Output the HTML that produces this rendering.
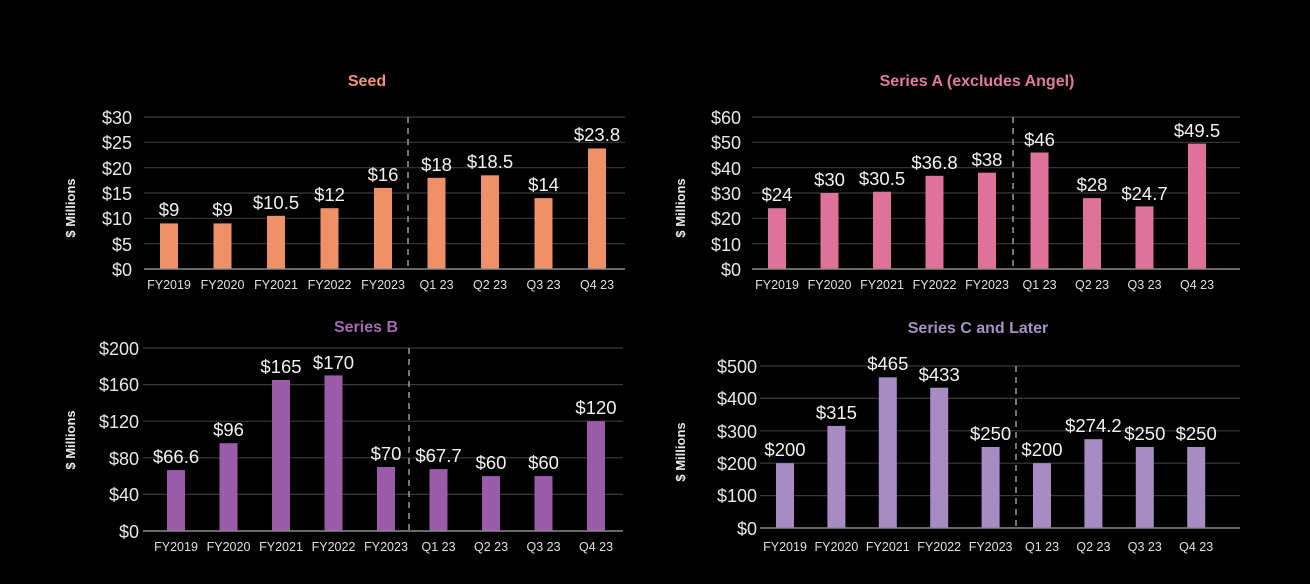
<!DOCTYPE html>
<html><head><meta charset="utf-8"><style>
html,body{margin:0;padding:0;background:#000;}
svg{display:block;font-family:"Liberation Sans",Arial,sans-serif;}
.g{stroke:#3a3a3a;stroke-width:1.2}
.b{stroke:#8a8a8a;stroke-width:1.5}
.d{stroke:#9a9a9a;stroke-width:1.5;stroke-dasharray:6,5}
.t{fill:#e8e8e8;font-size:18px;text-anchor:end}
.c{fill:#e0e0e0;font-size:12.5px;text-anchor:middle}
.v{fill:#f2f2f2;font-size:18.5px;text-anchor:middle}
.y{fill:#e8e8e8;font-size:13px;font-weight:bold;text-anchor:middle}
.h{font-size:16px;font-weight:bold;text-anchor:middle}
</style></head><body>
<svg width="1310" height="584" viewBox="0 0 1310 584">
<rect width="1310" height="584" fill="#000"/>

<!-- SEED -->
<text class="h" x="367" y="86" fill="#ef9470">Seed</text>
<text class="y" transform="translate(75,208) rotate(-90)">$ Millions</text>
<g>
<line class="g" x1="144" y1="117" x2="625" y2="117"/><line class="g" x1="144" y1="142.3" x2="625" y2="142.3"/>
<line class="g" x1="144" y1="167.7" x2="625" y2="167.7"/><line class="g" x1="144" y1="193" x2="625" y2="193"/>
<line class="g" x1="144" y1="218.3" x2="625" y2="218.3"/><line class="g" x1="144" y1="243.7" x2="625" y2="243.7"/>
<text class="t" x="132" y="124">$30</text><text class="t" x="132" y="149">$25</text><text class="t" x="132" y="175">$20</text>
<text class="t" x="132" y="200">$15</text><text class="t" x="132" y="225">$10</text><text class="t" x="132" y="251">$5</text><text class="t" x="132" y="276">$0</text>
<g fill="#ee9068">
<rect x="160" y="223.4" width="18" height="45.6"/><rect x="213.5" y="223.4" width="18" height="45.6"/>
<rect x="267" y="215.8" width="18" height="53.2"/><rect x="320.5" y="208.2" width="18" height="60.8"/>
<rect x="374" y="187.9" width="18" height="81.1"/><rect x="427.5" y="177.8" width="18" height="91.2"/>
<rect x="481" y="175.3" width="18" height="93.7"/><rect x="534.5" y="198.1" width="18" height="70.9"/>
<rect x="588" y="148.4" width="18" height="120.6"/>
</g>
<line class="b" x1="144" y1="269" x2="625" y2="269"/>
<line class="d" x1="408" y1="117" x2="408" y2="269"/>
<text class="v" x="169" y="216">$9</text><text class="v" x="222.5" y="216">$9</text><text class="v" x="276" y="209">$10.5</text>
<text class="v" x="329.5" y="201">$12</text><text class="v" x="383" y="181">$16</text><text class="v" x="436.5" y="171">$18</text>
<text class="v" x="490" y="168">$18.5</text><text class="v" x="543.5" y="191">$14</text><text class="v" x="597" y="141">$23.8</text>
<text class="c" x="169" y="289">FY2019</text><text class="c" x="222.5" y="289">FY2020</text><text class="c" x="276" y="289">FY2021</text>
<text class="c" x="329.5" y="289">FY2022</text><text class="c" x="383" y="289">FY2023</text><text class="c" x="436.5" y="289">Q1 23</text>
<text class="c" x="490" y="289">Q2 23</text><text class="c" x="543.5" y="289">Q3 23</text><text class="c" x="597" y="289">Q4 23</text>
</g>

<!-- SERIES A -->
<text class="h" x="977" y="86" fill="#e27aa0">Series A (excludes Angel)</text>
<text class="y" transform="translate(685,208) rotate(-90)">$ Millions</text>
<g>
<line class="g" x1="752" y1="117" x2="1240" y2="117"/><line class="g" x1="752" y1="142.3" x2="1240" y2="142.3"/>
<line class="g" x1="752" y1="167.7" x2="1240" y2="167.7"/><line class="g" x1="752" y1="193" x2="1240" y2="193"/>
<line class="g" x1="752" y1="218.3" x2="1240" y2="218.3"/><line class="g" x1="752" y1="243.7" x2="1240" y2="243.7"/>
<text class="t" x="741" y="124">$60</text><text class="t" x="741" y="149">$50</text><text class="t" x="741" y="175">$40</text>
<text class="t" x="741" y="200">$30</text><text class="t" x="741" y="225">$20</text><text class="t" x="741" y="251">$10</text><text class="t" x="741" y="276">$0</text>
<g fill="#df7299">
<rect x="768" y="208.2" width="18" height="60.8"/><rect x="820.5" y="193" width="18" height="76"/>
<rect x="873" y="191.7" width="18" height="77.3"/><rect x="925.5" y="175.8" width="18" height="93.2"/>
<rect x="978" y="172.7" width="18" height="96.3"/><rect x="1030.5" y="152.5" width="18" height="116.5"/>
<rect x="1083" y="198.1" width="18" height="70.9"/><rect x="1135.5" y="206.4" width="18" height="62.6"/>
<rect x="1188" y="143.6" width="18" height="125.4"/>
</g>
<line class="b" x1="752" y1="269" x2="1240" y2="269"/>
<line class="d" x1="1013" y1="117" x2="1013" y2="269"/>
<text class="v" x="777" y="201">$24</text><text class="v" x="829.5" y="186">$30</text><text class="v" x="882" y="185">$30.5</text>
<text class="v" x="934.5" y="169">$36.8</text><text class="v" x="987" y="166">$38</text><text class="v" x="1039.5" y="146">$46</text>
<text class="v" x="1092" y="191">$28</text><text class="v" x="1144.5" y="200">$24.7</text><text class="v" x="1197" y="137">$49.5</text>
<text class="c" x="777" y="289">FY2019</text><text class="c" x="829.5" y="289">FY2020</text><text class="c" x="882" y="289">FY2021</text>
<text class="c" x="934.5" y="289">FY2022</text><text class="c" x="987" y="289">FY2023</text><text class="c" x="1039.5" y="289">Q1 23</text>
<text class="c" x="1092" y="289">Q2 23</text><text class="c" x="1144.5" y="289">Q3 23</text><text class="c" x="1197" y="289">Q4 23</text>
</g>

<!-- SERIES B -->
<text class="h" x="366" y="332" fill="#a469b5">Series B</text>
<text class="y" transform="translate(75,440) rotate(-90)">$ Millions</text>
<g>
<line class="g" x1="143" y1="348" x2="623" y2="348"/><line class="g" x1="143" y1="384.6" x2="623" y2="384.6"/>
<line class="g" x1="143" y1="421.2" x2="623" y2="421.2"/><line class="g" x1="143" y1="457.8" x2="623" y2="457.8"/>
<line class="g" x1="143" y1="494.4" x2="623" y2="494.4"/>
<text class="t" x="139" y="355">$200</text><text class="t" x="139" y="391">$160</text><text class="t" x="139" y="428">$120</text>
<text class="t" x="139" y="465">$80</text><text class="t" x="139" y="501">$40</text><text class="t" x="139" y="538">$0</text>
<g fill="#9a5ca8">
<rect x="167" y="470.1" width="18" height="60.9"/><rect x="219.5" y="443.2" width="18" height="87.8"/>
<rect x="272" y="380" width="18" height="151"/><rect x="324.5" y="375.4" width="18" height="155.6"/>
<rect x="377" y="467" width="18" height="64"/><rect x="429.5" y="469.1" width="18" height="61.9"/>
<rect x="482" y="476.1" width="18" height="54.9"/><rect x="534.5" y="476.1" width="18" height="54.9"/>
<rect x="587" y="421.2" width="18" height="109.8"/>
</g>
<line class="b" x1="143" y1="531" x2="623" y2="531"/>
<line class="d" x1="409" y1="348" x2="409" y2="531"/>
<text class="v" x="176" y="463">$66.6</text><text class="v" x="228.5" y="436">$96</text><text class="v" x="281" y="373">$165</text>
<text class="v" x="333.5" y="369">$170</text><text class="v" x="386" y="460">$70</text><text class="v" x="438.5" y="462">$67.7</text>
<text class="v" x="491" y="469">$60</text><text class="v" x="543.5" y="469">$60</text><text class="v" x="596" y="414">$120</text>
<text class="c" x="176" y="551">FY2019</text><text class="c" x="228.5" y="551">FY2020</text><text class="c" x="281" y="551">FY2021</text>
<text class="c" x="333.5" y="551">FY2022</text><text class="c" x="386" y="551">FY2023</text><text class="c" x="438.5" y="551">Q1 23</text>
<text class="c" x="491" y="551">Q2 23</text><text class="c" x="543.5" y="551">Q3 23</text><text class="c" x="596" y="551">Q4 23</text>
</g>

<!-- SERIES C -->
<text class="h" x="978" y="333" fill="#a792c4">Series C and Later</text>
<text class="y" transform="translate(685,452) rotate(-90)">$ Millions</text>
<g>
<line class="g" x1="760" y1="366" x2="1240" y2="366"/><line class="g" x1="760" y1="398.4" x2="1240" y2="398.4"/>
<line class="g" x1="760" y1="430.8" x2="1240" y2="430.8"/><line class="g" x1="760" y1="463.2" x2="1240" y2="463.2"/>
<line class="g" x1="760" y1="495.6" x2="1240" y2="495.6"/>
<text class="t" x="757" y="373">$500</text><text class="t" x="757" y="405">$400</text><text class="t" x="757" y="438">$300</text>
<text class="t" x="757" y="470">$200</text><text class="t" x="757" y="502">$100</text><text class="t" x="757" y="535">$0</text>
<g fill="#a78cc3">
<rect x="776" y="463.2" width="18" height="64.8"/><rect x="827.4" y="425.9" width="18" height="102.1"/>
<rect x="878.8" y="377.3" width="18" height="150.7"/><rect x="930.2" y="387.7" width="18" height="140.3"/>
<rect x="981.6" y="447" width="18" height="81"/><rect x="1033" y="463.2" width="18" height="64.8"/>
<rect x="1084.4" y="439.2" width="18" height="88.8"/><rect x="1135.8" y="447" width="18" height="81"/>
<rect x="1187.2" y="447" width="18" height="81"/>
</g>
<line class="b" x1="760" y1="528" x2="1240" y2="528"/>
<line class="d" x1="1016" y1="366" x2="1016" y2="528"/>
<text class="v" x="785" y="456">$200</text><text class="v" x="836.4" y="419">$315</text><text class="v" x="887.8" y="370">$465</text>
<text class="v" x="939.2" y="381">$433</text><text class="v" x="990.6" y="440">$250</text><text class="v" x="1042" y="456">$200</text>
<text class="v" x="1093.4" y="432">$274.2</text><text class="v" x="1144.8" y="440">$250</text><text class="v" x="1196.2" y="440">$250</text>
<text class="c" x="785" y="551">FY2019</text><text class="c" x="836.4" y="551">FY2020</text><text class="c" x="887.8" y="551">FY2021</text>
<text class="c" x="939.2" y="551">FY2022</text><text class="c" x="990.6" y="551">FY2023</text><text class="c" x="1042" y="551">Q1 23</text>
<text class="c" x="1093.4" y="551">Q2 23</text><text class="c" x="1144.8" y="551">Q3 23</text><text class="c" x="1196.2" y="551">Q4 23</text>
</g>
</svg>
</body></html>
